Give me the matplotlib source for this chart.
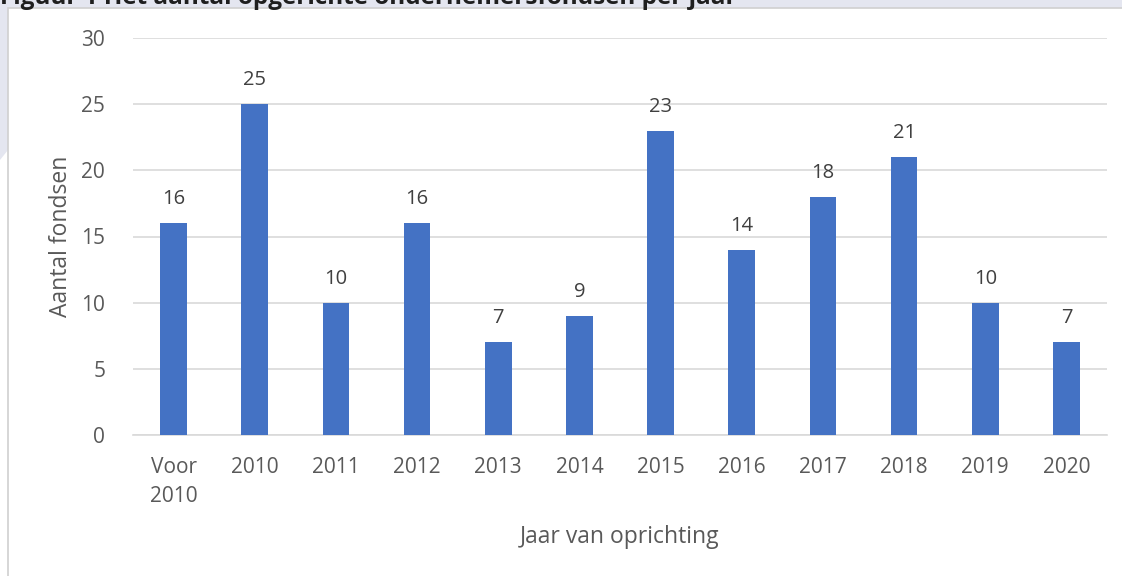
import matplotlib
matplotlib.use("Agg")
import matplotlib.pyplot as plt
from matplotlib.patches import Rectangle, Polygon

categories = ["Voor\n2010", "2010", "2011", "2012", "2013", "2014", "2015",
              "2016", "2017", "2018", "2019", "2020"]
values = [16, 25, 10, 16, 7, 9, 23, 14, 18, 21, 10, 7]
yticks = [0, 5, 10, 15, 20, 25, 30]
title = "Figuur 1 Het aantal opgerichte ondernemersfondsen per jaar"
xlabel = "Jaar van oprichting"
ylabel = "Aantal fondsen"

plt.rcParams['font.family'] = ['Open Sans', 'DejaVu Sans']
W, H = 1122, 576
fig = plt.figure(figsize=(W / 100, H / 100), dpi=100)
fig.patch.set_facecolor("white")

# background decorations (page behind the chart box)
lav = "#E4E6F0"
fig.patches.append(Polygon([(0, 1), (1, 1), (1, 1 - 8 / H), (0, 1 - 8 / H)],
                           closed=True, transform=fig.transFigure,
                           facecolor=lav, edgecolor="none", zorder=-3))
fig.patches.append(Polygon([(0, 1), (8 / W, 1), (8 / W, 1 - 150 / H), (0, 1 - 160 / H)],
                           closed=True, transform=fig.transFigure,
                           facecolor=lav, edgecolor="none", zorder=-3))
fig.patches.append(Rectangle((8 / W, -0.01), 1.0, 1 - 8 / H + 0.01,
                             transform=fig.transFigure, facecolor="white",
                             edgecolor="#D0D0D0", linewidth=1.2, zorder=-2))
fig.text(0.0, 1 - 4 / H, title, fontsize=17.5, fontweight="bold", color="#1F1F1F",
         ha="left", va="baseline", family=["Open Sans", "DejaVu Sans"], zorder=-1)

ax = fig.add_axes([133 / W, 1 - 435 / H, (1107 - 133) / W, (435 - 38) / H])
ax.set_facecolor("none")
x = list(range(len(categories)))
bars = ax.bar(x, values, width=0.33, color="#4472C4", zorder=3)
for xi, v in zip(x, values):
    ax.text(xi, v + 1.05, str(v), ha="center", va="bottom", fontsize=14.5,
            color="#404040")

ax.set_ylim(0, 30)
ax.set_xlim(-0.5, len(categories) - 0.5)
ax.set_yticks(yticks)
ax.yaxis.grid(True, color="#D9D9D9", linewidth=1.2, zorder=0)
ax.set_axisbelow(True)
for s in ["top", "right", "left"]:
    ax.spines[s].set_visible(False)
ax.spines["bottom"].set_color("#D9D9D9")
ax.spines["bottom"].set_linewidth(1.2)
ax.tick_params(axis="both", length=0, labelsize=15, colors="#595959")
ax.tick_params(axis="y", pad=20)
ax.tick_params(axis="x", pad=16)
ax.set_xticks(x)
ax.set_xticklabels(categories, linespacing=1.5)
ax.set_xlabel(xlabel, fontsize=16.5, color="#595959", labelpad=13)
ax.set_ylabel(ylabel, fontsize=16.5, color="#595959", labelpad=6)

fig.savefig("out.png", dpi=100)
